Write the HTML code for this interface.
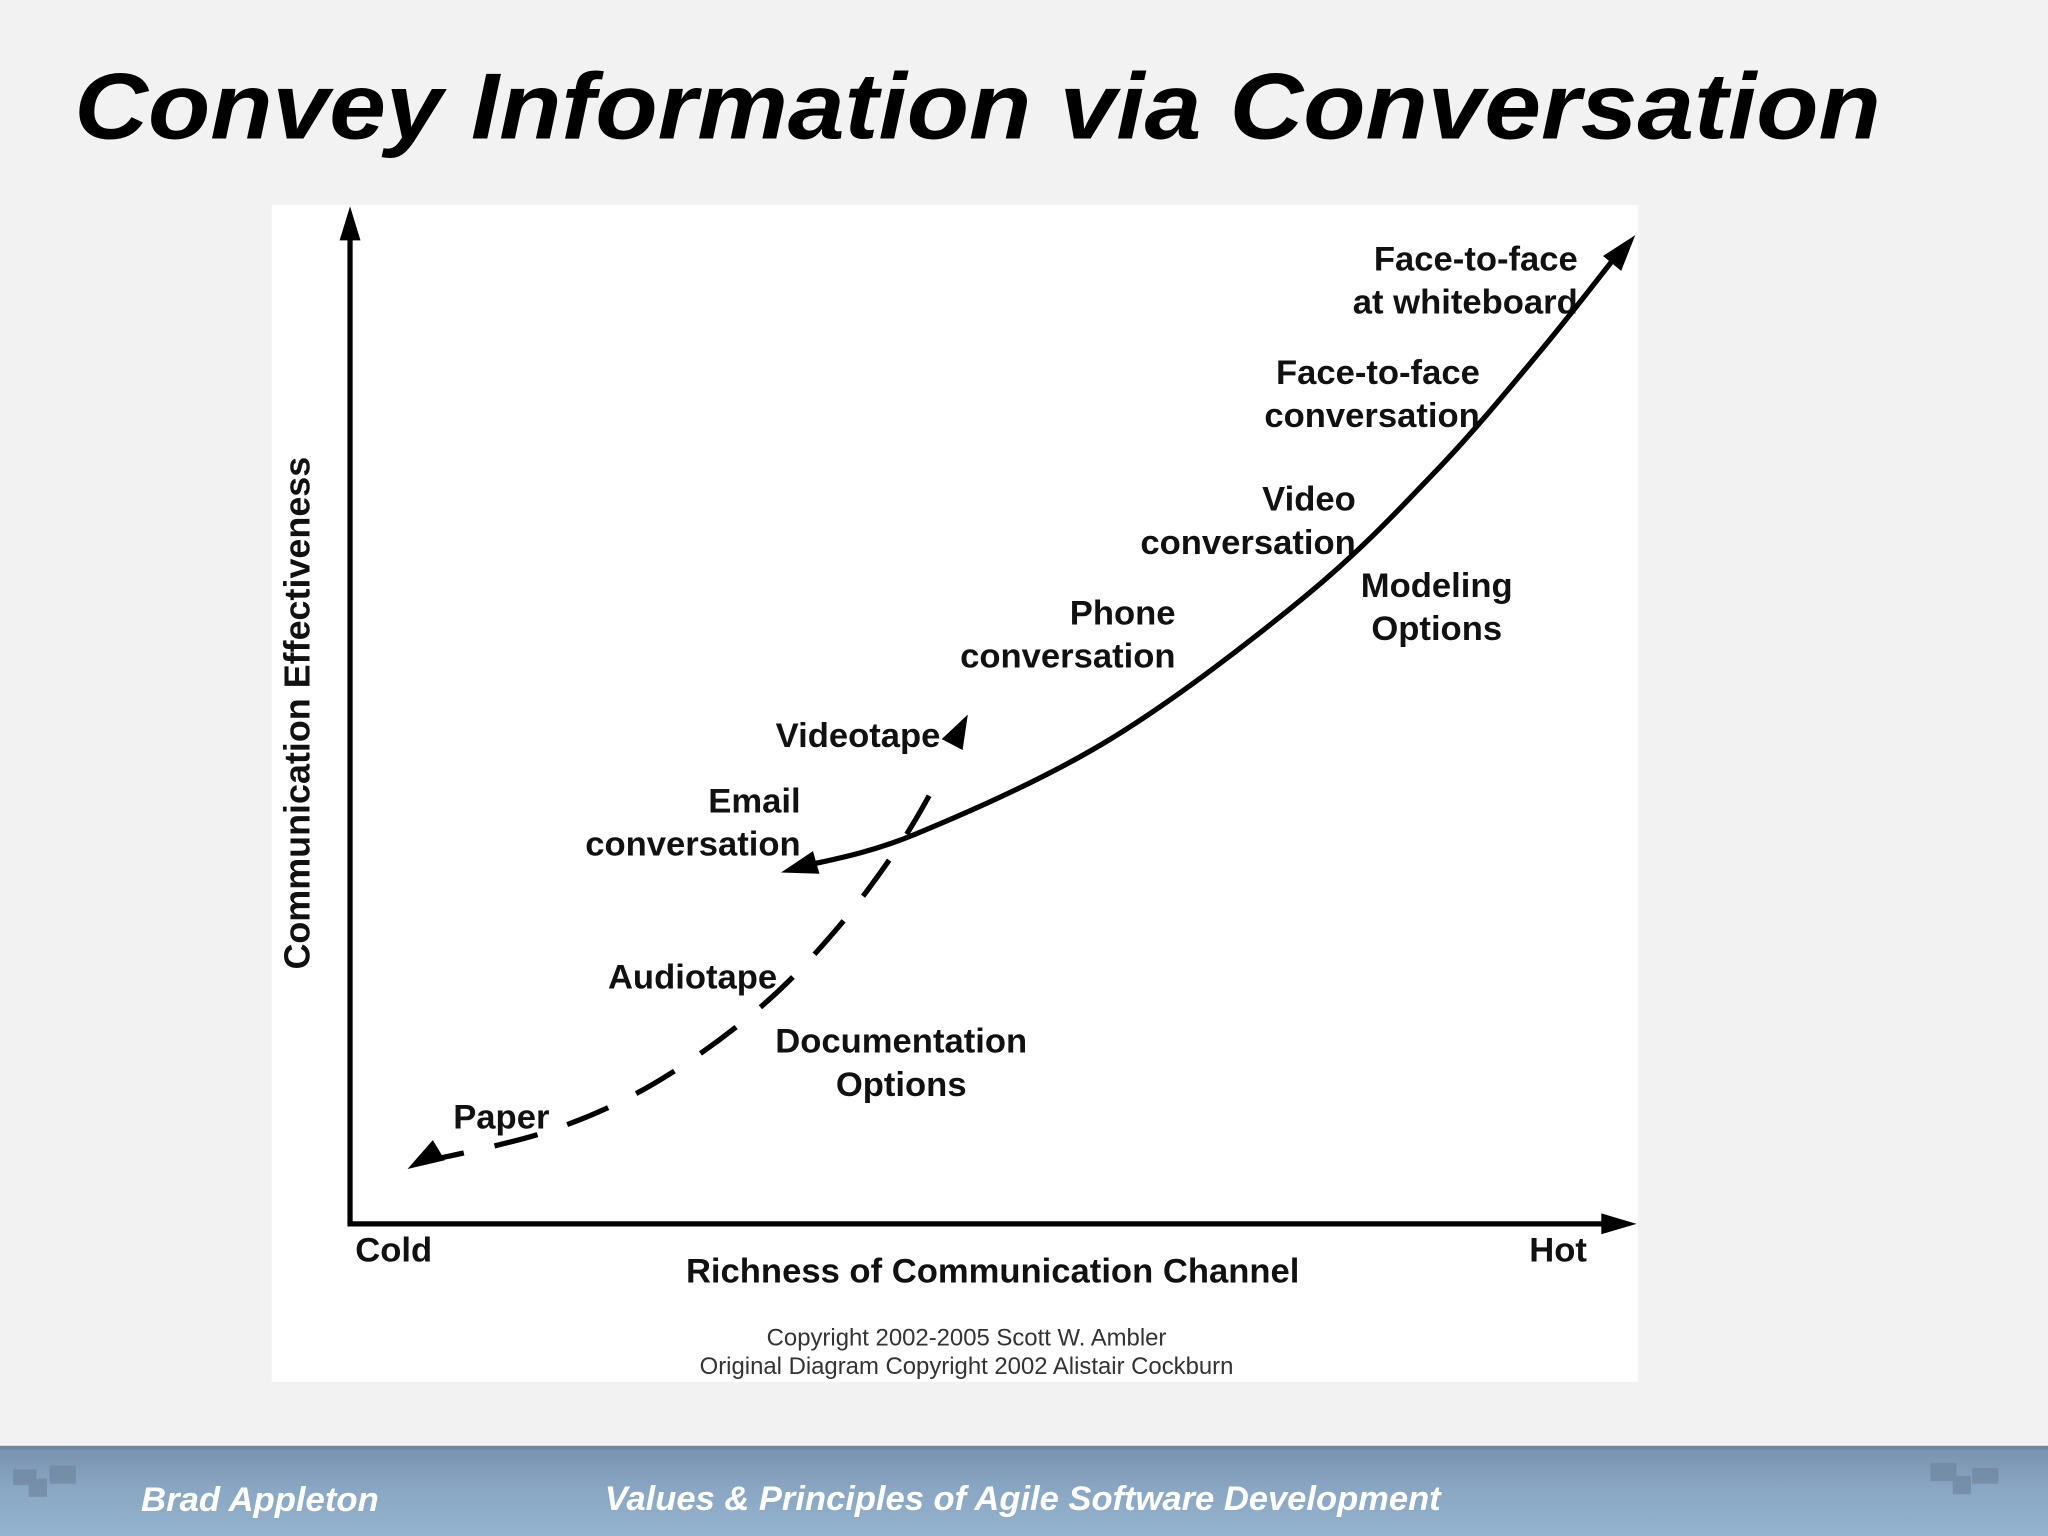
<!DOCTYPE html>
<html><head><meta charset="utf-8"><style>
html,body{margin:0;padding:0;background:#f2f2f2;}
svg{display:block;}
</style></head><body>
<svg width="2048" height="1536" viewBox="0 0 1568 1176" preserveAspectRatio="none" xmlns="http://www.w3.org/2000/svg">
<defs>
<linearGradient id="fg" x1="0" y1="0" x2="0" y2="1">
<stop offset="0" stop-color="#7891ad"/><stop offset="0.5" stop-color="#8aa7c3"/><stop offset="1" stop-color="#93b3cf"/>
</linearGradient>
</defs>
<rect x="0" y="0" width="1568" height="1176" fill="#f2f2f2"/>
<text x="57" y="106" font-family="Liberation Sans, sans-serif" font-weight="bold" font-style="italic" font-size="72" textLength="1383" lengthAdjust="spacingAndGlyphs" fill="#000">Convey Information via Conversation</text>
<rect x="208" y="157" width="1046" height="901" fill="#fff"/>
<g id="chart" font-family="Liberation Sans, sans-serif" font-weight="bold" font-size="26.5" fill="#111">
<line x1="268" y1="937" x2="268" y2="180" stroke="#000" stroke-width="4"/>
<polygon points="268,158 260,184 276,184" fill="#000"/>
<line x1="266" y1="937" x2="1230" y2="937" stroke="#000" stroke-width="4"/>
<polygon points="1253,937 1226,929 1226,945" fill="#000"/>
<text x="237" y="546" text-anchor="middle" font-size="27.5" transform="rotate(-90 237 546)">Communication Effectiveness</text>
<text x="760" y="982" text-anchor="middle">Richness of Communication Channel</text>
<text x="272" y="966">Cold</text>
<text x="1215" y="966" text-anchor="end">Hot</text>
<g text-anchor="end">
<text x="1208" y="207">Face-to-face</text>
<text x="1208" y="240">at whiteboard</text>
<text x="1133" y="294">Face-to-face</text>
<text x="1133" y="327">conversation</text>
<text x="1038" y="391">Video</text>
<text x="1038" y="424">conversation</text>
<text x="900" y="478">Phone</text>
<text x="900" y="511">conversation</text>
<text x="720" y="572">Videotape</text>
<text x="613" y="622">Email</text>
<text x="613" y="655">conversation</text>
<text x="595" y="757">Audiotape</text>
</g>
<g text-anchor="middle">
<text x="1100" y="457">Modeling</text>
<text x="1100" y="490">Options</text>
<text x="690" y="806">Documentation</text>
<text x="690" y="839">Options</text>
</g>
<text x="347" y="864">Paper</text>
<g font-weight="normal" font-size="18.3" fill="#333" text-anchor="middle">
<text x="740" y="1030">Copyright 2002-2005 Scott W. Ambler</text>
<text x="740" y="1052">Original Diagram Copyright 2002 Alistair Cockburn</text>
</g>
</g>
<rect x="0" y="1107" width="1568" height="69" fill="url(#fg)"/>
<rect x="0" y="1107" width="1568" height="3" fill="#6f87a0"/>
<g fill="#6f86a0" opacity="0.7"><rect x="10" y="1125" width="18" height="12"/><rect x="22" y="1132" width="14" height="14"/><rect x="38" y="1122" width="20" height="14"/></g>
<g fill="#6f86a0" opacity="0.7"><rect x="1478" y="1120" width="20" height="14"/><rect x="1495" y="1130" width="14" height="14"/><rect x="1510" y="1124" width="20" height="12"/></g>
<g font-family="Liberation Sans, sans-serif" font-weight="bold" font-style="italic" font-size="26" fill="#fff">
<text x="108" y="1157" textLength="182" lengthAdjust="spacingAndGlyphs">Brad Appleton</text>
<text x="463" y="1156" textLength="640" lengthAdjust="spacingAndGlyphs">Values &amp; Principles of Agile Software Development</text>
</g>
</svg>
<script>
// Curve data in display units (1568x1176 slide coordinates)
const modelingX = [612, 700, 850, 1000, 1100, 1180, 1242];
const modelingY = [664, 639, 566, 456, 360, 268, 190];
const docX = [322, 420, 500, 580, 640, 690, 722];
const docY = [890, 866, 830, 773, 712, 645, 590];

function toPath(xs, ys){
  const pts = xs.map((x,i)=>[x, ys[i]]);
  let d = 'M' + pts[0][0] + ',' + pts[0][1];
  for (let i=0;i<pts.length-1;i++){
    const p0 = pts[Math.max(0,i-1)], p1 = pts[i], p2 = pts[i+1], p3 = pts[Math.min(pts.length-1,i+2)];
    const c1 = [p1[0]+(p2[0]-p0[0])/6, p1[1]+(p2[1]-p0[1])/6];
    const c2 = [p2[0]-(p3[0]-p1[0])/6, p2[1]-(p3[1]-p1[1])/6];
    d += ' C' + c1.join(',') + ' ' + c2.join(',') + ' ' + p2.join(',');
  }
  return d;
}
function arrowHead(g, tip, from, len, w, name){
  const dx = tip[0]-from[0], dy = tip[1]-from[1], L = Math.hypot(dx,dy);
  const ux = dx/L, uy = dy/L;
  const bx = tip[0]-ux*len, by = tip[1]-uy*len;
  const p = document.createElementNS('http://www.w3.org/2000/svg','polygon');
  p.setAttribute('points', tip.join(',')+' '+(bx-uy*w)+','+(by+ux*w)+' '+(bx+uy*w)+','+(by-ux*w));
  p.setAttribute('fill','#000');
  
  
  g.appendChild(p);
}
const g = document.getElementById('chart');
const NS = 'http://www.w3.org/2000/svg';
const solid = document.createElementNS(NS,'path');
solid.setAttribute('d', toPath(modelingX, modelingY));
solid.setAttribute('fill','none'); solid.setAttribute('stroke','#000'); solid.setAttribute('stroke-width','4');


g.appendChild(solid);
const n = modelingX.length;
arrowHead(g, [598,668], [modelingX[0], modelingY[0]], 28, 9, 'modeling-arrow-low');
arrowHead(g, [1252,180], [modelingX[n-2], modelingY[n-2]], 28, 9, 'modeling-arrow-high');
const dash = document.createElementNS(NS,'path');
dash.setAttribute('d', toPath(docX, docY));
dash.setAttribute('fill','none'); dash.setAttribute('stroke','#000'); dash.setAttribute('stroke-width','4');
dash.setAttribute('stroke-dasharray','34 24');


g.appendChild(dash);
arrowHead(g, [312,895], [docX[0], docY[0]-1], 28, 9, 'documentation-arrow-low');
const m = docX.length;
arrowHead(g, [741,547], [docX[m-2], docY[m-2]], 26, 9, 'documentation-arrow-high');
</script>
</body></html>
